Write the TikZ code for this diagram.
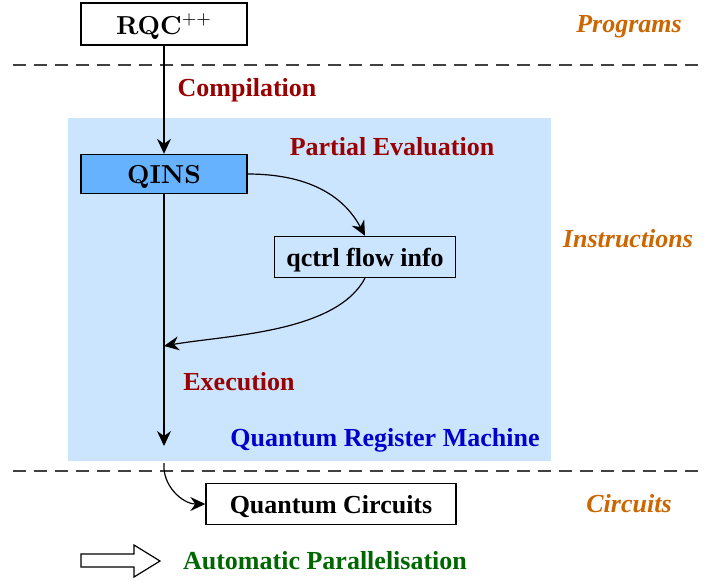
\RequirePackage{fix-cm}
\documentclass[tikz,border=0pt]{standalone}
\usepackage[no-math]{fontspec}
\setmainfont{Liberation Serif}
\newfontfamily\lmfont{lmroman10}[Extension=.otf, UprightFont=*-regular, BoldFont=*-bold]
\usetikzlibrary{arrows.meta}

\definecolor{machineblue}{HTML}{CCE5FF}
\definecolor{qinsblue}{HTML}{66B2FF}
\definecolor{phasered}{HTML}{990000}
\definecolor{levelorange}{HTML}{CC6600}
\definecolor{machinetext}{HTML}{0000CC}
\definecolor{autogreen}{HTML}{006600}

\newcommand{\cmbold}[1]{{\lmfont\bfseries #1}}

\tikzset{
  every node/.style={font=\fontsize{13}{15}\selectfont\bfseries, text depth=0pt},
  stage/.style={draw, line width=0.7pt, inner sep=0pt, minimum height=20.5pt},
  phase/.style={text=phasered},
  level/.style={text=levelorange, font=\fontsize{13}{15}\selectfont\bfseries\itshape},
  flow/.style={line width=0.6pt, -{Stealth[length=7.5pt,width=7pt,inset=2.5pt]}},
  layer/.style={dashed, dash pattern=on 6.5pt off 4pt, line width=0.6pt, black!75}
}

\begin{document}
\begin{tikzpicture}[x=0.5pt,y=-0.5pt]
\useasboundingbox (0,0) rectangle (704,580);

\fill[machineblue] (68,118) rectangle (551,461);
\draw[layer] (13,65) -- (704,65);
\draw[layer] (13,471) -- (704,471);

\node[stage, minimum width=83pt, minimum height=21pt] (rqc) at (164,24) {\cmbold{RQC}$^{++}$};
\node[stage, fill=qinsblue, minimum width=83pt, minimum height=19.5pt] (qins) at (164,174) {\cmbold{QINS}};
\node[stage, minimum width=90.5pt] (qctrl) at (365,257) {qctrl flow info};
\node[stage, minimum width=125pt] (circ) at (331,504) {Quantum Circuits};

\coordinate (merge) at (164,346);
\coordinate (rmend) at (164,446);
\coordinate (rmout) at (164,463);

\node[phase] (compile) at (247,87) {Compilation};
\node[phase] (partial) at (392,146) {Partial Evaluation};
\node[phase] (exec) at (239,381) {Execution};
\node[text=machinetext] (rm) at (385,437) {Quantum Register Machine};
\node[level] (programs) at (629,24) {Programs};
\node[level] (instr) at (628,238) {Instructions};
\node[level] (circuits) at (629,503) {Circuits};
\node[text=autogreen] (auto) at (325,560) {Automatic Parallelisation};

\draw[flow] (rqc) -- (qins);
\draw[flow] (qins.south) -- (rmend);
\draw[flow] (qins.east) to[out=0,in=118] (qctrl.north);
\draw[flow] (qctrl.south) to[out=-118,in=10,looseness=0.75] (merge);
\draw[flow] (rmout) to[out=-95,in=180] (circ.west);

\draw[line width=0.6pt, fill=white] (81,554) -- (134,554) -- (134,545) -- (160,561)
  -- (134,577) -- (134,567) -- (81,567) -- cycle;
\end{tikzpicture}
\end{document}
